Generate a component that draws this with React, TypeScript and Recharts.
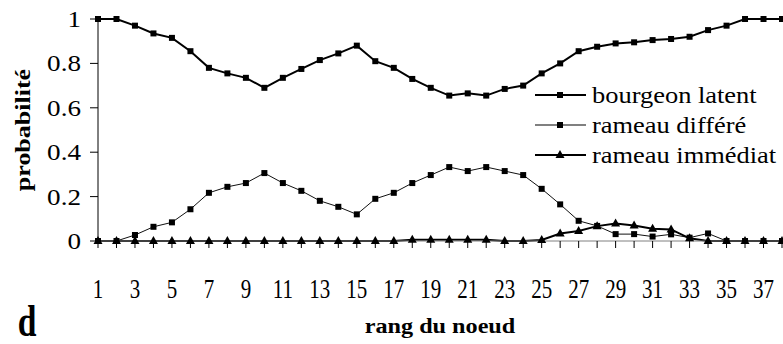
import { LineChart, Line, XAxis, YAxis, Legend } from 'recharts';

// rang du noeud 1..38
const nodes = [
  1, 2, 3, 4, 5, 6, 7, 8, 9, 10, 11, 12, 13, 14, 15, 16, 17, 18, 19,
  20, 21, 22, 23, 24, 25, 26, 27, 28, 29, 30, 31, 32, 33, 34, 35, 36, 37, 38,
];

const bourgeonLatent = [
  1.0, 1.0, 0.97, 0.935, 0.915, 0.855, 0.78, 0.755, 0.735, 0.69,
  0.735, 0.775, 0.815, 0.845, 0.88, 0.81, 0.78, 0.73, 0.69, 0.655,
  0.665, 0.655, 0.685, 0.7, 0.755, 0.8, 0.855, 0.875, 0.89, 0.895,
  0.905, 0.91, 0.92, 0.95, 0.97, 1.0, 1.0, 1.0,
];

const rameauDiffere = [
  0, 0, 0.027, 0.064, 0.084, 0.143, 0.217, 0.244, 0.261, 0.306,
  0.261, 0.226, 0.181, 0.154, 0.12, 0.19, 0.217, 0.261, 0.297, 0.333,
  0.315, 0.333, 0.315, 0.297, 0.235, 0.165, 0.091, 0.068, 0.031, 0.031,
  0.02, 0.03, 0.015, 0.034, 0, 0, 0, 0,
];

const rameauImmediat = [
  0, 0, 0, 0, 0, 0, 0, 0, 0, 0,
  0, 0, 0, 0, 0, 0, 0, 0.006, 0.006, 0.006,
  0.006, 0.006, 0, 0, 0.005, 0.034, 0.045, 0.067, 0.079, 0.07,
  0.055, 0.052, 0.012, 0, 0, 0, 0, 0,
];

const yTicks = [0, 0.2, 0.4, 0.6, 0.8, 1];

const legendItems = [
  { label: 'bourgeon latent', line: '#000', shape: 'square' },
  { label: 'rameau différé', line: '#808080', shape: 'square' },
  { label: 'rameau immédiat', line: '#000', shape: 'triangle' },
];

const FONT = "'Liberation Serif', 'Times New Roman', Times, serif";
const serif = { fontFamily: FONT };

const data = nodes.map((n, i) => ({
  node: n,
  latent: bourgeonLatent[i],
  differe: rameauDiffere[i],
  immediat: rameauImmediat[i],
}));

const renderSquare = (p: any) => (
  <rect key={`sq-${p.index}`} x={p.cx - 3} y={p.cy - 3} width={6} height={6} fill="#000" />
);

const renderTriangle = (p: any) => (
  <path
    key={`tr-${p.index}`}
    d={`M${p.cx},${p.cy - 5} L${p.cx + 4.5},${p.cy + 3} L${p.cx - 4.5},${p.cy + 3} Z`}
    fill="#000"
  />
);

function XTick({ x, y, payload }: any) {
  const v = Number(payload.value);
  if (v % 2 === 0) return <g />;
  return (
    <text
      transform={`translate(${x},${y + 50}) scale(0.75,1)`}
      textAnchor="middle"
      style={serif}
      fontSize={28}
      fill="#000"
    >
      {v}
    </text>
  );
}

function YTick({ x, y, payload }: any) {
  return (
    <text
      transform={`translate(${x},${y}) scale(1.13,1)`}
      textAnchor="end"
      dominantBaseline="central"
      style={serif}
      fontSize={24}
      fill="#000"
    >
      {String(payload.value)}
    </text>
  );
}

const renderLegend = () => (
  <svg width={253} height={92}>
    {legendItems.map((item, i) => {
      const cy = 15 + i * 30;
      return (
        <g key={item.label}>
          <line x1={5} x2={56} y1={cy} y2={cy} stroke={item.line} strokeWidth={2} />
          {item.shape === 'square' ? (
            <rect x={27} y={cy - 3} width={6} height={6} fill="#000" />
          ) : (
            <path d={`M30,${cy - 5} L34.5,${cy + 3} L25.5,${cy + 3} Z`} fill="#000" />
          )}
          <text
            transform={`translate(62,${cy}) scale(1.15,1)`}
            dominantBaseline="central"
            style={serif}
            fontSize={23}
            fill="#000"
          >
            {item.label}
          </text>
        </g>
      );
    })}
  </svg>
);

export default function App() {
  return (
    <div style={{ position: 'absolute', left: 0, top: 0, width: 783, height: 344, overflow: 'hidden', background: '#fff', fontFamily: FONT }}>
      <LineChart width={783} height={344} data={data} margin={{ top: 19, right: 1, bottom: 0, left: 0 }}>
        <XAxis
          dataKey="node"
          interval={0}
          tickSize={7}
          tickMargin={0}
          tick={<XTick />}
          tickLine={{ stroke: '#000' }}
          axisLine={{ stroke: '#808080' }}
          height={103}
          label={(props: any) => {
            const vb = props.viewBox;
            return (
              <g>
                <text
                  transform={`translate(${vb.x + vb.width / 2},${vb.y + 92}) scale(1.1,1)`}
                  textAnchor="middle"
                  style={serif}
                  fontWeight="bold"
                  fontSize={22}
                  fill="#000"
                >
                  rang du noeud
                </text>
                <text
                  transform={`translate(27,${vb.y + 95}) scale(0.8,1.05)`}
                  textAnchor="middle"
                  style={serif}
                  fontWeight="bold"
                  fontSize={42}
                  fill="#000"
                >
                  d
                </text>
              </g>
            );
          }}
        />
        <YAxis
          domain={[0, 1]}
          ticks={yTicks}
          width={98}
          tickSize={8}
          tickMargin={9}
          tick={<YTick />}
          tickLine={{ stroke: '#000' }}
          axisLine={{ stroke: '#000' }}
          label={(props: any) => {
            const vb = props.viewBox;
            return (
              <text
                transform={`translate(23,${vb.y + vb.height / 2}) rotate(-90) scale(1.3,1)`}
                textAnchor="middle"
                dominantBaseline="central"
                style={serif}
                fontWeight="bold"
                fontSize={20}
                fill="#000"
              >
                probabilité
              </text>
            );
          }}
        />
        <Legend
          layout="vertical"
          align="center"
          verticalAlign="middle"
          content={renderLegend}
          wrapperStyle={{ position: 'absolute', left: 530, top: 80, width: 253 }}
        />
        <Line
          dataKey="latent"
          name="bourgeon latent"
          stroke="#000"
          strokeWidth={2}
          dot={renderSquare}
          activeDot={false}
          isAnimationActive={false}
        />
        <Line
          dataKey="differe"
          name="rameau différé"
          stroke="#111"
          strokeWidth={1}
          dot={renderSquare}
          activeDot={false}
          isAnimationActive={false}
        />
        <Line
          dataKey="immediat"
          name="rameau immédiat"
          stroke="#000"
          strokeWidth={2}
          dot={renderTriangle}
          activeDot={false}
          isAnimationActive={false}
        />
      </LineChart>
    </div>
  );
}
